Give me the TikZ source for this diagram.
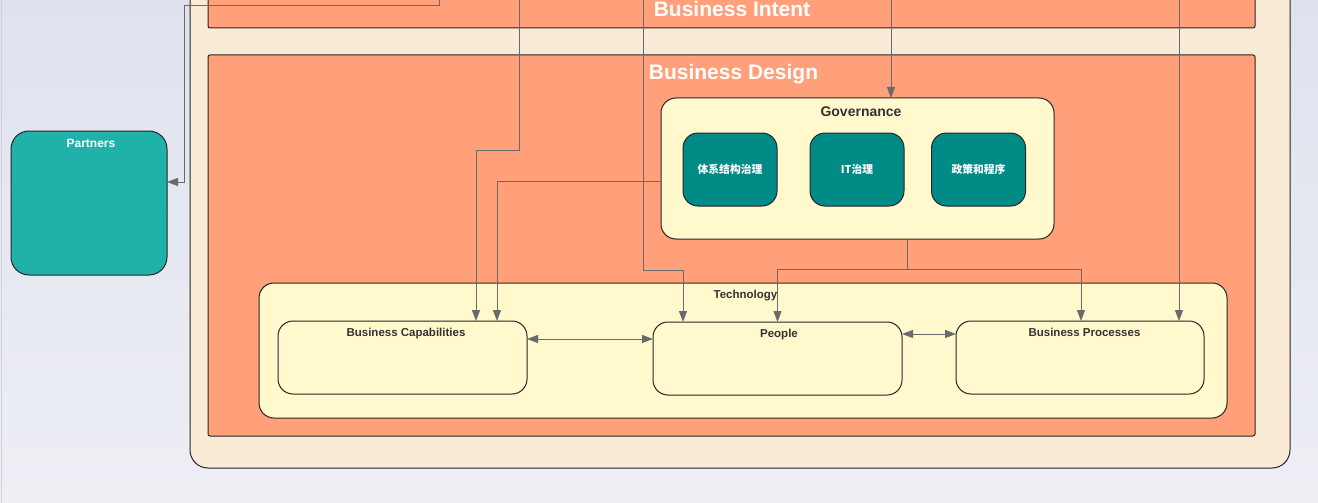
\documentclass[tikz,border=0pt]{standalone}
\usepackage{fontspec}
\setmainfont{Liberation Sans}
\newfontfamily\cjk{Noto Sans CJK SC}
\usetikzlibrary{arrows.meta,positioning,calc}
\definecolor{bgTop}{HTML}{DFE2EE}
\definecolor{bgBottom}{HTML}{EEEFF5}
\definecolor{outerFill}{HTML}{FAEBD7}
\definecolor{layerFill}{HTML}{FFA07A}
\definecolor{groupFill}{HTML}{FFF9CD}
\definecolor{govFill}{HTML}{008B87}
\definecolor{partnerFill}{HTML}{20B2AA}
\definecolor{linkGray}{HTML}{6A6A6A}
\definecolor{titleGray}{HTML}{333333}

\begin{document}
\begin{tikzpicture}[x=1pt,y=-1pt,>={Triangle[length=11pt,width=8pt]},font=\bfseries\fontsize{11.5}{13}\selectfont]
    \tikzset{
        boxBase/.style={draw=black!85,line width=1pt,inner sep=0pt,outer sep=0pt},
        outerBox/.style={boxBase,fill=outerFill,rounded corners=18pt},
        layerBox/.style={boxBase,fill=layerFill,rounded corners=2pt},
        groupBox/.style={boxBase,fill=groupFill,rounded corners=15pt},
        govItem/.style={boxBase,fill=govFill,rounded corners=15pt,minimum width=94pt,minimum height=73pt,text=white,font=\cjk\bfseries\fontsize{10.8}{12}\selectfont},
        partnerBox/.style={boxBase,fill=partnerFill,rounded corners=18pt},
        layerTitle/.style={anchor=base,text=white,font=\bfseries\fontsize{21}{24}\selectfont},
        boxTitle/.style={anchor=base,text=titleGray},
        link/.style={draw=linkGray,line width=1pt,->},
        biLink/.style={draw=linkGray,line width=1pt,<->}
    }
    \useasboundingbox (0,0) rectangle (1318,503);
    \clip (0,0) rectangle (1318,503);
    \fill[top color=bgTop,bottom color=bgBottom] (0,0) rectangle (1318,503);
    \draw[gray!35,line width=1pt] (1.5,0) -- (1.5,503);
    % Layers
    \node[outerBox,minimum width=1100pt,minimum height=498pt] (outer) at (740,219) {};
    \node[layerBox,minimum width=1047pt,minimum height=58pt] (intent) at (731.5,-1) {};
    \node[layerTitle] (intentTitle) at (732,17) {Business Intent};
    \node[layerBox,minimum width=1047pt,minimum height=381pt] (design) at (731.5,245.5) {};
    \node[layerTitle] (designTitle) at (733.5,80) {Business Design};
    % Governance
    \node[groupBox,minimum width=393pt,minimum height=141pt] (gov) at (857.5,168.5) {};
    \node[boxTitle,font=\bfseries\fontsize{14}{16}\selectfont] (govTitle) at (861,116) {Governance};
    \node[govItem] (archGov) at (730,169.5) {体系结构治理};
    \node[govItem] (itGov) at (857,169.5) {IT治理};
    \node[govItem] (policy) at (978.5,169.5) {政策和程序};
    % Technology
    \node[groupBox,minimum width=968pt,minimum height=135pt] (tech) at (743,350.5) {};
    \node[boxTitle] (techTitle) at (745.5,298) {Technology};
    \node[groupBox,minimum width=249pt,minimum height=73pt] (bcap) at (402.5,357.5) {};
    \node[boxTitle] (bcapTitle) at (406,336) {Business Capabilities};
    \node[groupBox,minimum width=249pt,minimum height=73pt] (people) at (777.5,358.5) {};
    \node[boxTitle] (peopleTitle) at (779,337) {People};
    \node[groupBox,minimum width=248pt,minimum height=73pt] (bproc) at (1080,357.5) {};
    \node[boxTitle] (bprocTitle) at (1084.5,336) {Business Processes};
    % Partners
    \node[partnerBox,minimum width=156pt,minimum height=144pt] (partners) at (89,203) {};
    \node[boxTitle,text=white,font=\bfseries\fontsize{12}{14}\selectfont] (partnersTitle) at (91,147) {Partners};
    % Links from above
    \coordinate (topA) at (439,-5);
    \coordinate (topB) at (519,-5);
    \coordinate (topC) at (643,-5);
    \coordinate (topD) at (891,-5);
    \coordinate (topE) at (1179,-5);
    \draw[link] (topA) -- (439,6) -- (184,6) |- ([yshift=21pt]partners.east);
    \draw[link] (topB) -- (519,150) -| ([xshift=73.5pt]bcap.north);
    \draw[link] ([yshift=-12.5pt]gov.west) -| ([xshift=94.5pt]bcap.north);
    \draw[link] (topC) -- (643,270) -| ([xshift=-94.5pt]people.north);
    \draw[link] (topD) -- ([xshift=33.5pt]gov.north);
    \draw[link] ([xshift=49.5pt]gov.south) -- ++(0,30) coordinate (govSplit) -| (people.north);
    \draw[link] (govSplit) -| ([xshift=1pt]bproc.north);
    \draw[link] (topE) -- ([xshift=99pt]bproc.north);
    % Between technology parts
    \draw[biLink] ([yshift=18.5pt]bcap.east) -- ([yshift=19.5pt]people.west);
    \draw[biLink] ([yshift=24.5pt]people.east) -- ([yshift=23.5pt]bproc.west);
\end{tikzpicture}
\end{document}
